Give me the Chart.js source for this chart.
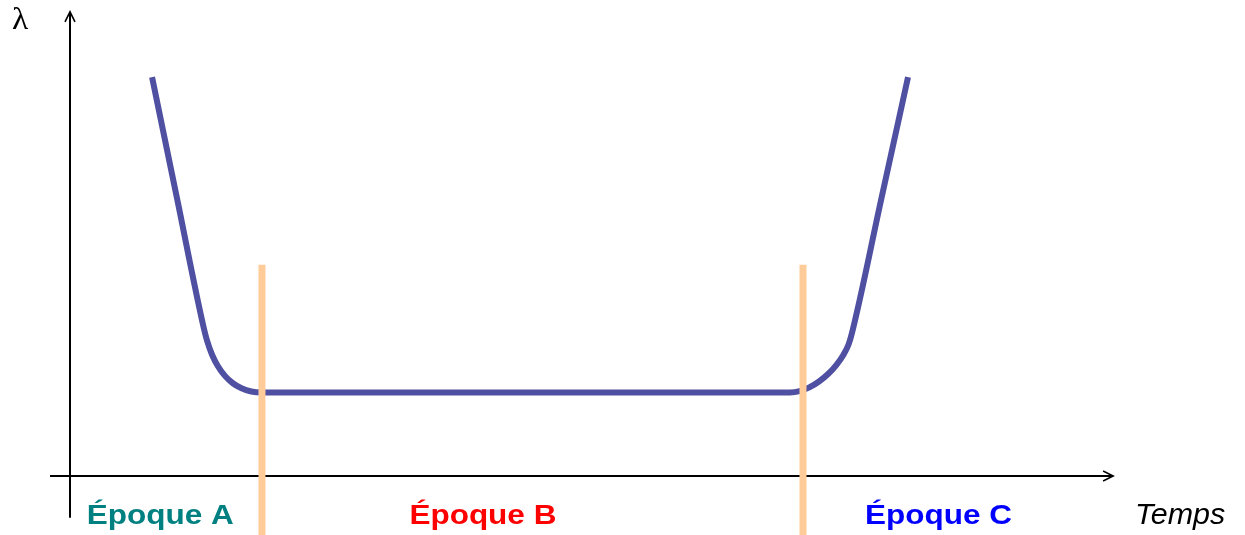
<!DOCTYPE html>
<html>
<head>
<meta charset="utf-8">
<script src="https://cdn.jsdelivr.net/npm/chart.js@4"></script>
<style>
html,body{margin:0;padding:0;background:#fff;}
canvas{display:block;}
</style>
</head>
<body>
<canvas id="c" width="1245" height="535"></canvas>
<script>
// Bathtub curve: failure rate λ over time
const times   = [7.89, 10.32, 12.80, 13.18, 13.65, 14.21, 14.88, 15.63, 16.49, 17.43, 18.46,
                 69.23, 70.15, 71.09, 72.02, 72.89, 73.68, 74.36, 74.87, 75.19, 77.99, 80.58];
const lambdas = [8.65, 5.98, 3.26, 2.92, 2.62, 2.37, 2.16, 2.00, 1.885, 1.815, 1.793,
                 1.793, 1.822, 1.904, 2.033, 2.196, 2.391, 2.611, 2.843, 3.087, 5.98, 8.65];

// Epoch boundaries (time values) and the vertical extent of the markers
const boundaries = [18.46, 70.48];
const boundaryTop = 4.57;
const boundaryBottom = -1.4;

const epochLabels = ['Époque A', 'Époque B', 'Époque C'];
const epochColors = ['#008080', '#ff0000', '#0000ff'];
const epochCenters = [8.68, 39.7, 83.5];

const xAxisTitle = 'Temps';
const yAxisTitle = 'λ';

const curve = times.map((t, i) => ({x: t, y: lambdas[i]}));
const boundaryDatasets = boundaries.map(b => ({
  type: 'line',
  data: [{x: b, y: boundaryTop}, {x: b, y: boundaryBottom}],
  borderColor: '#ffcc99',
  borderWidth: 7,
  pointRadius: 0,
  clip: false,
  order: 0
}));

function stretchedText(ctx, text, x, y, font, color, sx, align) {
  ctx.save();
  ctx.font = font;
  ctx.fillStyle = color;
  ctx.textBaseline = 'alphabetic';
  const w = ctx.measureText(text).width * sx;
  let left = x;
  if (align === 'center') left = x - w / 2;
  ctx.translate(left, y);
  ctx.scale(sx, 1);
  ctx.textAlign = 'left';
  ctx.fillText(text, 0, 0);
  ctx.restore();
}

const axesPlugin = {
  id: 'arrowAxes',
  beforeDatasetsDraw(chart) {
    const ctx = chart.ctx;
    const xs = chart.scales.x, ys = chart.scales.y;
    const x0 = xs.getPixelForValue(0), y0 = ys.getPixelForValue(0) + 1;
    const xEnd = xs.getPixelForValue(100.3), xStart = xs.getPixelForValue(-1.92);
    const yTop = ys.getPixelForValue(10.07), yBot = ys.getPixelForValue(-0.93);
    ctx.save();
    ctx.strokeStyle = '#000';
    ctx.lineWidth = 2;
    ctx.beginPath();
    ctx.moveTo(x0, yBot); ctx.lineTo(x0, yTop);
    ctx.moveTo(xStart, y0); ctx.lineTo(xEnd, y0);
    ctx.stroke();
    ctx.lineWidth = 1.6;
    ctx.beginPath();
    ctx.moveTo(x0 - 5, yTop + 10); ctx.lineTo(x0, yTop); ctx.lineTo(x0 + 5, yTop + 10);
    ctx.moveTo(xEnd - 10, y0 - 5); ctx.lineTo(xEnd, y0); ctx.lineTo(xEnd - 10, y0 + 5);
    ctx.stroke();
    ctx.restore();
  },
  afterDatasetsDraw(chart) {
    const ctx = chart.ctx;
    const xs = chart.scales.x, ys = chart.scales.y;
    const base = ys.getPixelForValue(-1.07);
    epochLabels.forEach((lab, i) => {
      stretchedText(ctx, lab, xs.getPixelForValue(epochCenters[i]), base,
        'bold 28px "Liberation Sans", Arial, sans-serif', epochColors[i], 1.125, 'center');
    });
    stretchedText(ctx, xAxisTitle, xs.getPixelForValue(102.4), ys.getPixelForValue(-1.07),
      'italic 29px "Liberation Sans", Arial, sans-serif', '#000', 1.05, 'left');
    stretchedText(ctx, yAxisTitle, xs.getPixelForValue(-4.8), ys.getPixelForValue(9.7),
      '32px "Liberation Serif", "Times New Roman", serif', '#000', 1.05, 'center');
  }
};

new Chart(document.getElementById('c'), {
  type: 'line',
  data: {
    datasets: [
      ...boundaryDatasets,
      {
        type: 'line',
        data: curve,
        borderColor: '#5050a2',
        borderWidth: 6,
        pointRadius: 0,
        cubicInterpolationMode: 'monotone',
        clip: false,
        order: 1
      }
    ]
  },
  options: {
    responsive: false,
    devicePixelRatio: 1,
    animation: false,
    layout: {padding: {left: 70, right: 135, top: 15, bottom: 60}},
    plugins: {legend: {display: false}, tooltip: {enabled: false}},
    scales: {
      x: {type: 'linear', min: 0, max: 100, display: false},
      y: {type: 'linear', min: 0, max: 10, display: false}
    }
  },
  plugins: [axesPlugin]
});
</script>
</body>
</html>
